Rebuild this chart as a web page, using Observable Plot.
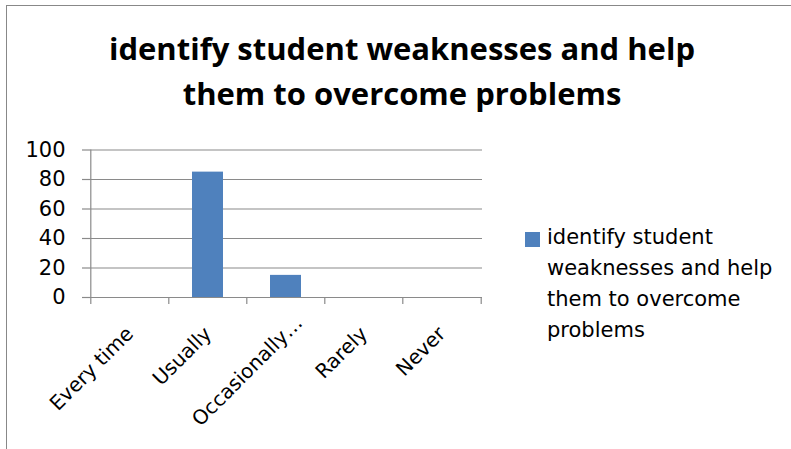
<!DOCTYPE html>
<html>
<head>
<meta charset="utf-8">
<script src="https://cdn.jsdelivr.net/npm/d3@7"></script>
<script src="https://cdn.jsdelivr.net/npm/@observablehq/plot@0.6"></script>
<style>
  html, body { margin: 0; padding: 0; background: #fff; }
  #wrap { position: relative; width: 791px; height: 449px; overflow: hidden; font-family: "DejaVu Sans", sans-serif; }
  #border { position: absolute; left: 6px; top: 5px; width: 800px; height: 460px; border-left: 1.5px solid #888; border-top: 1.5px solid #888; box-sizing: border-box; }
  #title { position: absolute; left: 2px; width: 800px; top: 25.5px; text-align: center; font-family: "Open Sans", sans-serif; font-weight: bold; font-size: 31px; line-height: 45px; color: #000; }
  #legend { position: absolute; left: 525px; top: 222px; font-size: 21px; line-height: 31px; color: #000; }
  #legend .sw { position: absolute; left: 0; top: 10px; width: 15px; height: 15px; background: #4f81bd; }
  #legend .tx { position: absolute; left: 22px; top: 0; width: 260px; }
  #chart { position: absolute; left: 0; top: 0; }
</style>
</head>
<body>
<div id="wrap">
  <div id="border"></div>
  <div id="chart"></div>
  <div id="title"></div>
  <div id="legend"><div class="sw"></div><div class="tx"></div></div>
</div>
<script>
const titleLines = ["identify student weaknesses and help", "them to overcome problems"];
const legendLines = ["identify student", "weaknesses and help", "them to overcome", "problems"];
const categories = ["Every time", "Usually", "Occasionally\u2026", "Rarely", "Never"];
const values = [0, 85, 15, 0, 0];
const yTicks = [0, 20, 40, 60, 80, 100];

document.getElementById("title").innerHTML = titleLines.join("<br>");
document.querySelector("#legend .tx").innerHTML = legendLines.join("<br>");

const data = categories.map((c, i) => ({category: c, value: values[i]}));
const truncated = categories.filter(c => c.endsWith("\u2026"));
const plain = categories.filter(c => !c.endsWith("\u2026"));

const W = 791, H = 449;
const mL = 90, mR = 309, mT = 149.5, mB = 152;
const step = (W - mL - mR) / categories.length;
const tickExt = 7 / ((H - mT - mB) / 100);
const gray = "#8a8a8a";
const font = "'DejaVu Sans', sans-serif";

const chart = Plot.plot({
  width: W,
  height: H,
  marginLeft: mL,
  marginRight: mR,
  marginTop: mT,
  marginBottom: mB,
  style: {fontFamily: font, background: "transparent", color: "#000"},
  x: {domain: categories, paddingInner: 0.6, paddingOuter: 0.3, label: null},
  y: {domain: [0, 100], label: null},
  marks: [
    Plot.gridY(yTicks, {stroke: gray, strokeOpacity: 1, strokeWidth: 1.2}),
    Plot.barY(data, {x: "category", y: "value", fill: "#4f81bd"}),
    Plot.ruleY([0], {stroke: gray, strokeWidth: 1.2}),
    Plot.ruleX(categories, {x: d => d, y1: -tickExt, y2: (d, i) => i === 0 ? 100 : 0, dx: -step / 2, stroke: gray, strokeWidth: 1.2}),
    Plot.ruleX([categories[categories.length - 1]], {x: d => d, y1: -tickExt, y2: 0, dx: step / 2, stroke: gray, strokeWidth: 1.2}),
    Plot.axisY(yTicks, {tickSize: 8, tickPadding: 17, fontSize: 21, stroke: gray, strokeWidth: 1.2, fill: "#000", label: null}),
    Plot.axisX(plain, {tickSize: 0, tickPadding: 33, tickRotate: -45, fontSize: 20, dx: 0, fill: "#000", label: null}),
    Plot.axisX(truncated, {tickSize: 0, tickPadding: 22, tickRotate: -45, fontSize: 20, dx: 13, fill: "#000", label: null})
  ]
});
document.getElementById("chart").appendChild(chart);
</script>
</body>
</html>
